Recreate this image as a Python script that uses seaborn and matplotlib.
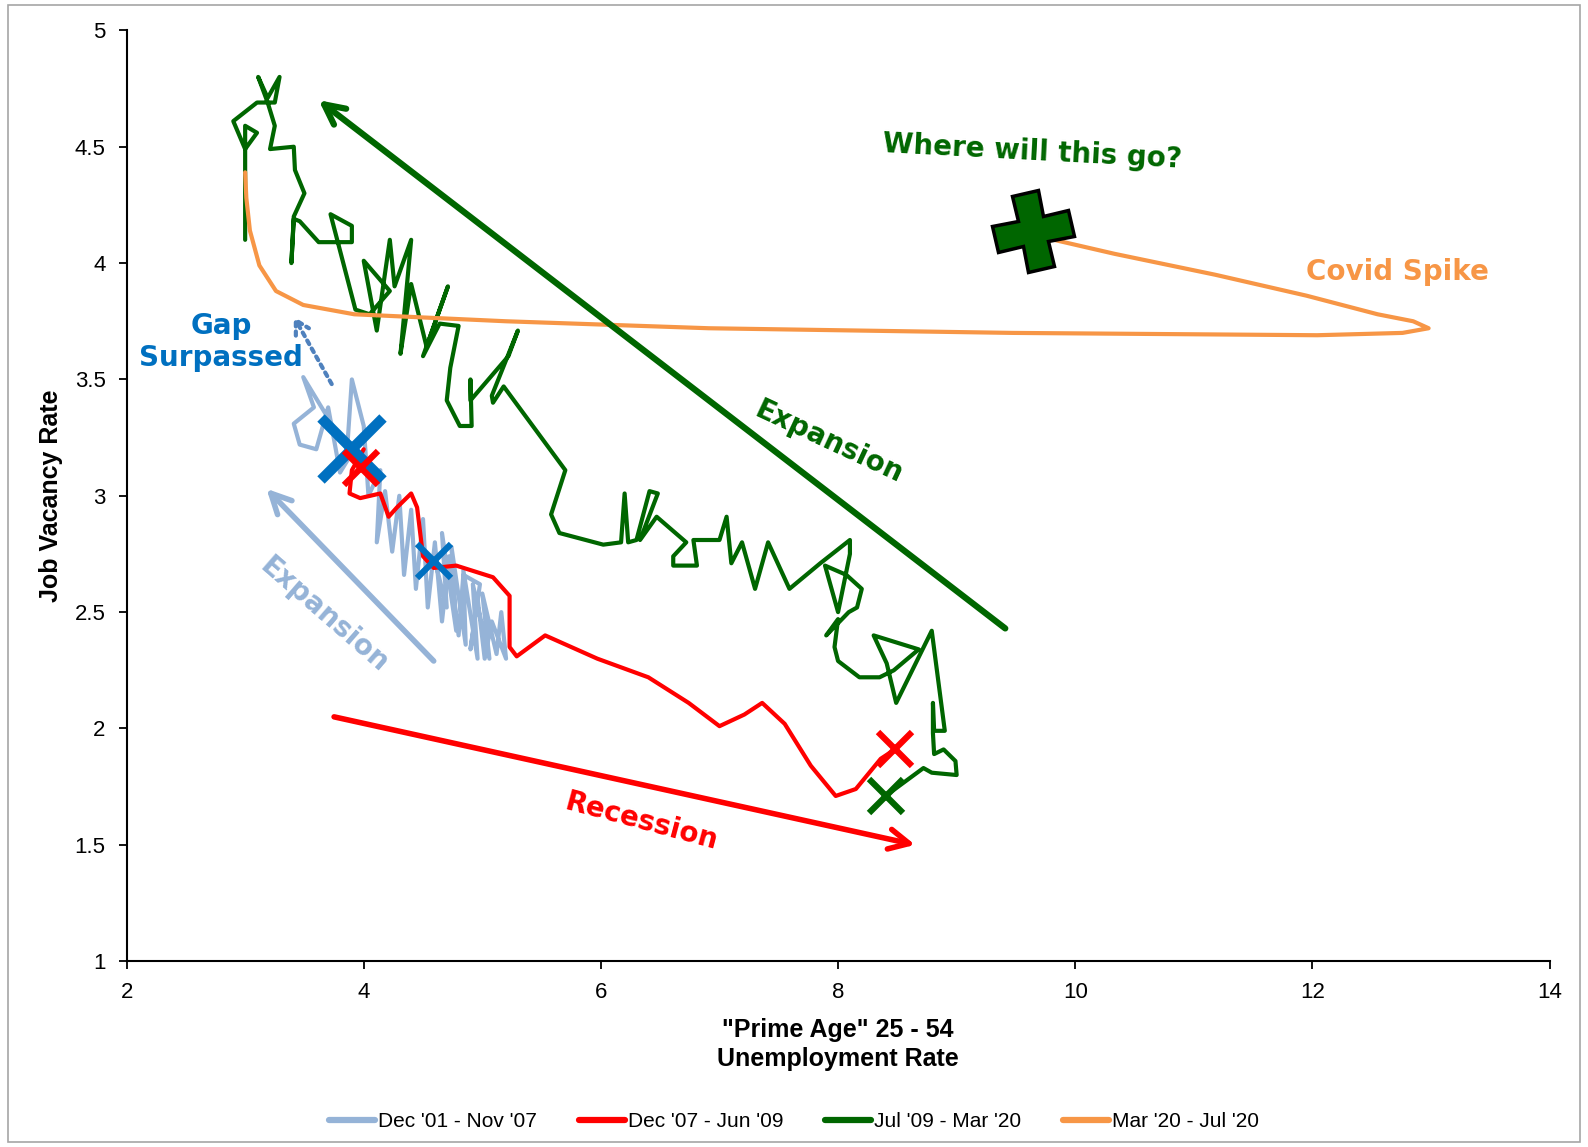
import numpy as np
import pandas as pd
import seaborn as sns
import matplotlib
matplotlib.use("Agg")
import matplotlib.pyplot as plt
from matplotlib.markers import MarkerStyle
from matplotlib.transforms import Affine2D
from matplotlib.patches import Rectangle

# ---- data (prime-age unemployment rate, job vacancy rate) ----
blue_x = [4.60, 4.70, 4.66, 4.78, 4.74, 4.86, 4.84, 4.96, 4.92, 5.06, 5.00, 5.12, 5.16, 5.20,
          5.08, 5.02, 4.96, 4.90, 4.98, 4.84, 4.80, 4.72, 4.66, 4.60, 4.54, 4.50, 4.44, 4.40,
          4.34, 4.30, 4.24, 4.18, 4.11, 4.14, 4.04, 4.00, 3.90, 3.86, 3.74, 3.49, 3.58, 3.41,
          3.46, 3.60, 3.70, 3.80, 3.92]
blue_y = [2.72, 2.52, 2.84, 2.42, 2.78, 2.36, 2.68, 2.30, 2.62, 2.30, 2.58, 2.32, 2.50, 2.30,
          2.46, 2.30, 2.56, 2.34, 2.62, 2.66, 2.40, 2.74, 2.46, 2.80, 2.52, 2.90, 2.60, 2.94,
          2.66, 3.00, 2.76, 3.02, 2.80, 3.11, 3.00, 3.30, 3.50, 3.20, 3.30, 3.51, 3.38, 3.31,
          3.22, 3.20, 3.38, 3.10, 3.20]

red_x = [4.00, 3.90, 3.88, 3.97, 4.14, 4.21, 4.28, 4.40, 4.45, 4.50, 4.59, 4.78, 5.09, 5.23,
         5.23, 5.29, 5.53, 5.97, 6.40, 6.74, 7.00, 7.21, 7.36, 7.55, 7.77, 7.98, 8.15, 8.36, 8.48]
red_y = [3.20, 3.11, 3.01, 2.99, 3.01, 2.91, 2.95, 3.01, 2.95, 2.74, 2.69, 2.70, 2.65, 2.57,
         2.35, 2.31, 2.40, 2.30, 2.22, 2.11, 2.01, 2.06, 2.11, 2.02, 1.84, 1.71, 1.74, 1.87, 1.91]

green_x = [8.40, 8.72, 8.79, 9.00, 8.99, 8.89, 8.81, 8.80, 8.80, 8.81, 8.90, 8.79, 8.49, 8.41,
           8.30, 8.68, 8.47, 8.35, 8.18, 8.00, 7.97, 8.00, 7.90, 8.09, 8.16, 8.20, 8.07, 7.89,
           8.00, 8.10, 8.10, 7.85, 7.59, 7.41, 7.30, 7.19, 7.10, 7.06, 7.00, 6.78, 6.81, 6.61,
           6.61, 6.72, 6.47, 6.33, 6.48, 6.41, 6.30, 6.23, 6.20, 6.17, 6.02, 5.65, 5.58, 5.70,
           5.18, 5.09, 5.08, 5.30, 5.22, 4.90, 4.90, 4.91, 4.81, 4.70, 4.73, 4.80, 4.64, 4.50,
           4.71, 4.53, 4.40, 4.31, 4.40, 4.26, 4.22, 4.11, 4.00, 4.22, 4.05, 3.93, 3.72, 3.90,
           3.90, 3.62, 3.46, 3.41, 3.39, 3.41, 3.50, 3.42, 3.41, 3.21, 3.25, 3.19, 3.11, 3.19,
           3.29, 3.25, 3.10, 2.90, 3.00, 3.10, 3.00, 3.00]
green_y = [1.71, 1.83, 1.81, 1.80, 1.86, 1.91, 1.89, 1.98, 2.11, 1.99, 1.99, 2.42, 2.11, 2.28,
           2.40, 2.34, 2.25, 2.22, 2.22, 2.29, 2.35, 2.47, 2.40, 2.50, 2.52, 2.60, 2.66, 2.70,
           2.50, 2.75, 2.81, 2.71, 2.60, 2.80, 2.60, 2.80, 2.71, 2.91, 2.81, 2.81, 2.70, 2.70,
           2.74, 2.80, 2.91, 2.81, 3.01, 3.02, 2.81, 2.80, 3.01, 2.80, 2.79, 2.84, 2.92, 3.11,
           3.47, 3.40, 3.43, 3.71, 3.60, 3.41, 3.50, 3.30, 3.30, 3.41, 3.55, 3.73, 3.74, 3.60,
           3.90, 3.64, 3.91, 3.61, 4.10, 3.90, 4.10, 3.71, 4.01, 3.88, 3.78, 3.80, 4.21, 4.16,
           4.09, 4.09, 4.18, 4.19, 4.00, 4.20, 4.30, 4.40, 4.50, 4.49, 4.59, 4.69, 4.80, 4.71,
           4.80, 4.69, 4.69, 4.61, 4.49, 4.56, 4.59, 4.10]

orange_x = [3.00, 3.01, 3.04, 3.12, 3.26, 3.49, 3.92, 5.20, 6.91, 9.47, 12.04, 12.76, 12.98,
            12.85, 12.55, 11.95, 11.18, 10.33, 9.82, 9.64]
orange_y = [4.39, 4.28, 4.14, 3.99, 3.88, 3.82, 3.78, 3.75, 3.72, 3.70, 3.69, 3.70, 3.72,
            3.75, 3.78, 3.86, 3.95, 4.04, 4.10, 4.12]

series_labels = ["Dec '01 - Nov '07", "Dec '07 - Jun '09", "Jul '09 - Mar '20", "Mar '20 - Jul '20"]

# colours
c_lblue = "#95B3D7"
c_red = "#FF0000"
c_green = "#006600"
c_orange = "#F79646"
c_blue = "#0070C0"

sns.set_theme(style="white")
plt.rcParams["font.family"] = ["Liberation Sans", "DejaVu Sans"]
plt.rcParams.update({"text.color": "black", "axes.labelcolor": "black",
                     "xtick.color": "black", "ytick.color": "black"})
note_font = ["DejaVu Sans"]

fig = plt.figure(figsize=(15.88, 11.47), dpi=100)
ax = fig.add_axes([0.0797, 0.162, 0.8961, 0.8115])

series = [(blue_x, blue_y, c_lblue), (red_x, red_y, c_red),
          (green_x, green_y, c_green), (orange_x, orange_y, c_orange)]
for (xs, ys, col), lab in zip(series, series_labels):
    df = pd.DataFrame({"u": xs, "v": ys})
    sns.lineplot(data=df, x="u", y="v", sort=False, estimator=None, color=col,
                 linewidth=3.0, label=lab, ax=ax, solid_joinstyle="round",
                 solid_capstyle="round")

# markers
ax.plot([3.90], [3.20], marker="x", ms=44, mew=7.5, color=c_blue, ls="none")
ax.plot([4.59], [2.72], marker="x", ms=25, mew=4.5, color=c_blue, ls="none")
ax.plot([3.98, 8.48], [3.12, 1.91], marker="x", ms=25, mew=4.5, color=c_red, ls="none")
ax.plot([8.40], [1.71], marker="x", ms=25, mew=4.5, color=c_green, ls="none")
plus = MarkerStyle("P", transform=Affine2D().rotate_deg(12))
ax.plot([9.64], [4.14], marker=plus, ms=56, mew=2.5, mfc=c_green, mec="black", ls="none")

# arrows
def arrow(x0, y0, x1, y1, col, lw, ls="-", hw=0.6, hl=1.2):
    ax.annotate("", xy=(x1, y1), xytext=(x0, y0),
                arrowprops=dict(arrowstyle=f"->,head_width={hw},head_length={hl}",
                                color=col, lw=lw, linestyle=ls, shrinkA=0, shrinkB=0))

arrow(9.41, 2.43, 3.62, 4.70, c_green, 4.5)
arrow(4.59, 2.29, 3.18, 3.03, c_lblue, 4.0)
arrow(3.75, 2.05, 8.65, 1.50, c_red, 4.0)
arrow(3.73, 3.48, 3.41, 3.77, "#4F81BD", 3.0, ls=(0, (1, 1.2)), hw=0.45, hl=0.8)

# annotations
note = dict(fontsize=20, fontweight="bold", family=note_font, ha="center", va="center")
ax.text(9.64, 4.48, "Where will this go?", color=c_green, rotation=-3, **note)
ax.text(12.72, 3.96, "Covid Spike", color=c_orange, **note)
ax.text(2.80, 3.66, "Gap\nSurpassed", color=c_blue, linespacing=1.2, **note)
ax.text(7.92, 3.23, "Expansion", color=c_green, rotation=-25, rotation_mode="anchor", **note)
ax.text(3.67, 2.49, "Expansion", color=c_lblue, rotation=-41, rotation_mode="anchor", **note)
ax.text(6.34, 1.60, "Recession", color=c_red, rotation=-15, rotation_mode="anchor", **note)

# axes
ax.set_xlim(2, 14)
ax.set_ylim(1, 5)
ax.set_xticks(np.arange(2, 15, 2))
ax.set_yticks(np.arange(1, 5.01, 0.5))
ax.set_yticklabels([f"{v:g}" for v in np.arange(1, 5.01, 0.5)])
ax.tick_params(axis="both", direction="out", length=6, width=1.3, color="black",
               labelcolor="black", labelsize=16, pad=9, left=True, bottom=True)
for side in ["top", "right"]:
    ax.spines[side].set_visible(False)
for side in ["left", "bottom"]:
    ax.spines[side].set_color("black")
    ax.spines[side].set_linewidth(1.5)
ax.set_xlabel('"Prime Age" 25 - 54\nUnemployment Rate', fontsize=18, fontweight="bold",
              labelpad=11, linespacing=1.25, color="black")
ax.set_ylabel("Job Vacancy Rate", fontsize=18, fontweight="bold", color="black")
ax.yaxis.set_label_coords(-0.045, 0.5)

leg = ax.legend(loc="center", bbox_to_anchor=(0.5, 0.022), bbox_transform=fig.transFigure,
                ncol=4, frameon=False, handlelength=2.2, handletextpad=0.15,
                columnspacing=2.0, prop={"size": 15})
for h in leg.get_lines():
    h.set_linewidth(4.5)
for t in leg.get_texts():
    t.set_color("black")

# chart-area border
fig.add_artist(Rectangle((0.005, 0.004), 0.99, 0.992, transform=fig.transFigure,
                         fill=False, edgecolor="#A6A6A6", lw=1.2))

fig.savefig("out.png", dpi=100)
